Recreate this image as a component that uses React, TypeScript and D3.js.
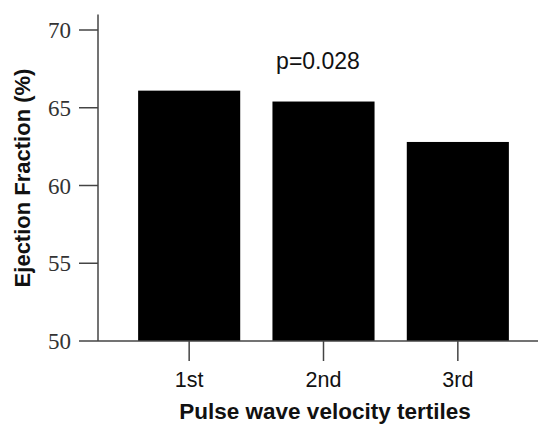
import * as d3 from "d3";

const categories = ["1st", "2nd", "3rd"];
const ejectionFraction = [66.1, 65.4, 62.8];
const yTicks = [50, 55, 60, 65, 70];
const pLabel = "p=0.028";

export default function App() {
  const width = 538;
  const height = 425;
  const axisX = 98;

  const y = d3.scaleLinear().domain([50, 70]).range([341, 30]);
  const x = d3
    .scaleBand<string>()
    .domain(categories)
    .range([122, 525])
    .paddingInner(0.24)
    .paddingOuter(0.12);

  const axisColor = "#444";
  const sans = "'Liberation Sans', Arial, sans-serif";
  const serif = "'Liberation Serif', 'Times New Roman', serif";

  return (
    <div style={{ position: "absolute", left: 0, top: 0 }}>
      <svg width={width} height={height} style={{ display: "block", background: "white" }}>
        {/* bars */}
        {categories.map((c, i) => (
          <rect
            key={c}
            x={x(c)}
            y={y(ejectionFraction[i])}
            width={x.bandwidth()}
            height={y(50) - y(ejectionFraction[i])}
            fill="#000"
          />
        ))}

        {/* y axis */}
        <line x1={axisX} x2={axisX} y1={y(71)} y2={y(50)} stroke={axisColor} strokeWidth={1.5} />
        {yTicks.map((t) => (
          <g key={t}>
            <line x1={axisX - 19} x2={axisX} y1={y(t)} y2={y(t)} stroke={axisColor} strokeWidth={1.5} />
            <text
              x={axisX - 27}
              y={y(t) + 8}
              textAnchor="end"
              fontSize={23}
              fontFamily={serif}
              fill="#333"
            >
              {t}
            </text>
          </g>
        ))}

        {/* x axis */}
        <line x1={axisX} x2={width} y1={y(50)} y2={y(50)} stroke={axisColor} strokeWidth={1.5} />
        {categories.map((c) => {
          const cx = (x(c) ?? 0) + x.bandwidth() / 2;
          return (
            <g key={c}>
              <line x1={cx} x2={cx} y1={y(50)} y2={y(50) + 20} stroke={axisColor} strokeWidth={1.5} />
              <text x={cx} y={387} textAnchor="middle" fontSize={21.5} fontFamily={sans} fill="#111">
                {c}
              </text>
            </g>
          );
        })}

        {/* p value */}
        <text x={318} y={69} textAnchor="middle" fontSize={23} fontFamily={sans} fill="#111">
          {pLabel}
        </text>

        {/* axis titles */}
        <text x={325} y={419} textAnchor="middle" fontSize={22.5} fontWeight="bold" fontFamily={sans} fill="#111">
          Pulse wave velocity tertiles
        </text>
        <text
          transform={`translate(30, 178) rotate(-90)`}
          textAnchor="middle"
          fontSize={22}
          fontWeight="bold"
          fontFamily={sans}
          fill="#111"
        >
          Ejection Fraction (%)
        </text>
      </svg>
    </div>
  );
}
